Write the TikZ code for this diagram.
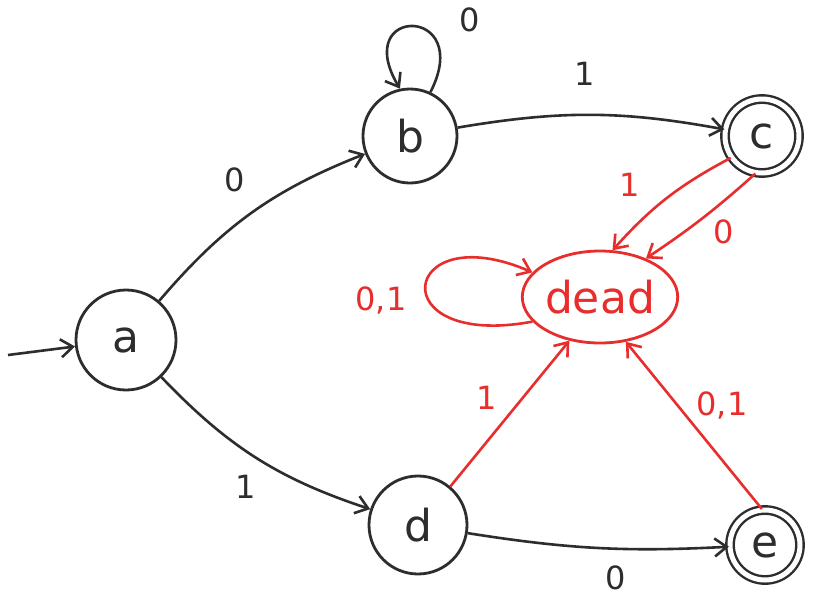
\documentclass[tikz,border=0pt]{standalone}
\usepackage{fontspec}
\setmainfont{DejaVu Sans}
\usetikzlibrary{arrows.meta,shapes.geometric}
\definecolor{ink}{RGB}{45,45,45}
\definecolor{redink}{RGB}{232,45,45}
\tikzset{
  state/.style={circle,draw=ink,line width=2.8pt,inner sep=0pt,font=\fontsize{44}{44}\selectfont,text=ink},
  accept/.style={state,double=white,double distance=5pt,line width=2.4pt},
  deadst/.style={ellipse,draw=redink,line width=2.8pt,minimum width=128pt,minimum height=92pt,inner sep=0pt,font=\fontsize{44}{44}\selectfont,text=redink},
  tr/.style={draw=ink,line width=2.6pt,-{Straight Barb[length=12pt,width=18pt,line width=2.6pt]}},
  rtr/.style={draw=redink,line width=2.6pt,-{Straight Barb[length=12pt,width=18pt,line width=2.6pt]}},
  lbl/.style={font=\fontsize{32}{32}\selectfont,text=ink},
  rlbl/.style={font=\fontsize{32}{32}\selectfont,text=redink},
}
\begin{document}
\begin{tikzpicture}[x=1pt,y=-1pt]
\useasboundingbox[fill=white] (0,0) rectangle (828,598);
\node[state,minimum size=100pt] (a) at (126,340) {a};
\node[state,minimum size=94pt] (b) at (410,136) {b};
\node[accept,minimum size=74pt] (c) at (762,136) {c};
\node[deadst] (dead) at (600,297) {dead};
\node[state,minimum size=98pt] (d) at (418,525) {d};
\node[accept,minimum size=70pt] (e) at (765,545) {e};
\coordinate (start) at (8,355);
\draw[tr] (start) -- (a);
\draw[tr] (a) to[bend left=14] (b);
\draw[tr] (a) to[bend right=14] (d);
\draw[tr] (b) to[bend left=10] (c);
\draw[tr] (d) to[bend right=6] (e);
\draw[tr] (b.65) .. controls (475,5) and (350,5) .. (b.102);
\draw[rtr] (c.215) to[bend right=10] (dead.75);
\draw[rtr] (c.260) to[bend left=4] (dead.40);
\draw[rtr] (dead.200) .. controls (380,350) and (400,215) .. (dead.160);
\draw[rtr] (d.50) -- (dead.235);
\draw[rtr] (e.95) -- (dead.300);
\node[lbl] (l1) at (470,20) {0};
\node[lbl] (l2) at (235,180) {0};
\node[lbl] (l3) at (585,74) {1};
\node[rlbl] (l4) at (630,185) {1};
\node[rlbl] (l5) at (724,232) {0};
\node[rlbl] (l6) at (381,300) {0,1};
\node[rlbl] (l7) at (487,398) {1};
\node[rlbl] (l8) at (722,405) {0,1};
\node[lbl] (l9) at (246,487) {1};
\node[lbl] (l10) at (616,578) {0};
\end{tikzpicture}
\end{document}
